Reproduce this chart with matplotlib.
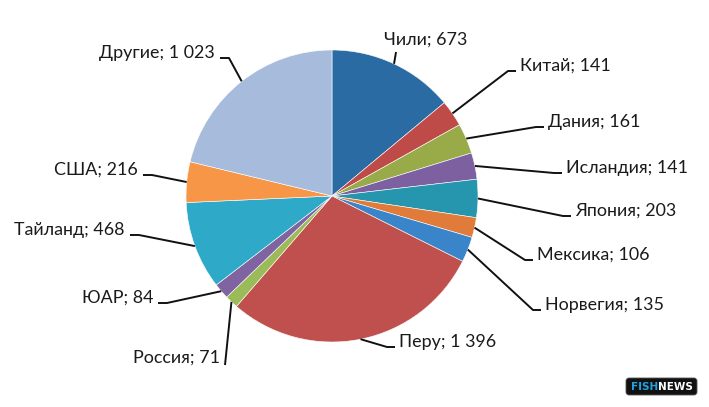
import numpy as np
import matplotlib
matplotlib.use("Agg")
import matplotlib.pyplot as plt
from matplotlib.patches import FancyBboxPatch

countries = ["Чили", "Китай", "Дания", "Исландия", "Япония", "Мексика", "Норвегия",
             "Перу", "Россия", "ЮАР", "Тайланд", "США", "Другие"]
values = [673, 141, 161, 141, 203, 106, 135, 1396, 71, 84, 468, 216, 1023]
value_labels = ["673", "141", "161", "141", "203", "106", "135",
                "1 396", "71", "84", "468", "216", "1 023"]
colors = ["#2B6BA3", "#BE4B48", "#98AB48", "#7D60A0", "#2596AD", "#E07B39", "#3A84C9",
          "#C0504D", "#9BBB59", "#8064A2", "#2EAAC8", "#F79646", "#A7BCDD"]

# label layout (pixel coords, origin top-left): x, y, alignment
layout = {
    "Чили": (426, 40, "center"),
    "Китай": (520, 66, "left"),
    "Дания": (548, 122, "left"),
    "Исландия": (566, 168, "left"),
    "Япония": (575, 211, "left"),
    "Мексика": (537, 255, "left"),
    "Норвегия": (545, 305, "left"),
    "Перу": (399, 342, "left"),
    "Россия": (220, 358, "right"),
    "ЮАР": (153, 298, "right"),
    "Тайланд": (125, 230, "right"),
    "США": (138, 170, "right"),
    "Другие": (215, 53, "right"),
}

W, H = 709, 407
fig = plt.figure(figsize=(W / 100, H / 100), dpi=100)
ax = fig.add_axes([0, 0, 1, 1])
cx, cy, r = 332, H - 196, 146
wedges, _ = ax.pie(values, colors=colors, startangle=90, counterclock=False,
                   center=(cx, cy), radius=r,
                   wedgeprops=dict(edgecolor="white", linewidth=0.4))
ax.set_xlim(0, W)
ax.set_ylim(0, H)
ax.set_aspect("auto")
ax.axis("off")

font = dict(family=["Lato", "DejaVu Sans"], fontsize=12.9, color="#1a1a1a")
lc = dict(color="#111111", lw=1.4, solid_capstyle="butt")

total = sum(values)
cum = 0
for name, v, vl, w in zip(countries, values, value_labels, wedges):
    mid = (cum + v / 2) / total * 2 * np.pi
    cum += v
    ex = cx + r * np.sin(mid)
    ey = cy + r * np.cos(mid)
    tx, ty, ha = layout[name]
    ty_d = H - ty
    ax.text(tx, ty_d, f"{name}; {vl}", ha=ha, va="center", **font)
    ly = ty_d - 5
    if name == "Чили":
        ax.plot([ex, ex + 2], [ey, H - 52], **lc)
    elif name == "Россия":
        ax.plot([ex, tx + 5], [ey, H - 365], **lc)
    elif ha == "left":
        ax.plot([ex, tx - 12, tx - 4], [ey, ly, ly], **lc)
    else:
        ax.plot([ex, tx + 14, tx + 5], [ey, ly, ly], **lc)

# FISHNEWS badge
badge = FancyBboxPatch((626, H - 395), 71, 17, boxstyle="round,pad=0,rounding_size=3",
                       facecolor="#111111", edgecolor="#555555", linewidth=0.6)
ax.add_patch(badge)
ax.text(658, H - 386.5, "FISH", ha="right", va="center", color="#1EA3E3",
        fontsize=7.5, fontweight="bold", family="DejaVu Sans")
ax.text(658, H - 386.5, "NEWS", ha="left", va="center", color="white",
        fontsize=7.5, fontweight="bold", family="DejaVu Sans")

fig.savefig("out.png", dpi=100, facecolor="white")
